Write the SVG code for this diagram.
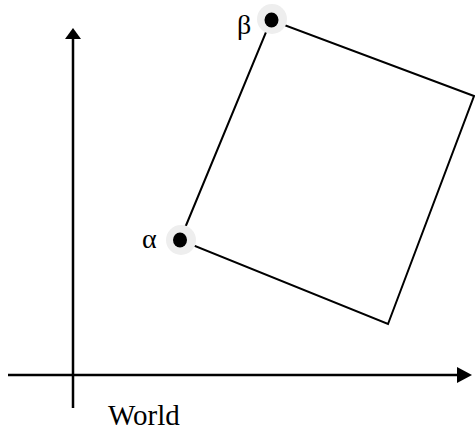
<svg xmlns="http://www.w3.org/2000/svg" width="475" height="430" viewBox="0 0 475 430">
<style>
.ax{stroke:#000;stroke-width:2.5;fill:none}
.edge{stroke:#000;stroke-width:2;fill:none}
.halo{fill:#eeeeee}
.dot{fill:#000}
.lbl{font-family:"Liberation Serif","Times New Roman",serif;font-size:28px;fill:#000}
.w{font-size:29px}
</style>
<g id="connectors">
<line class="ax" x1="73" y1="408" x2="73" y2="38"/>
<path d="M73,28 L65,39 L81,39 Z" fill="#000"/>
<line class="ax" x1="8" y1="375" x2="460" y2="375"/>
<path d="M472,375 L457,367 L457,383 Z" fill="#000"/>
<polygon class="edge" points="180,240 271,20 474,96 388,324"/>
</g>
<g id="alpha">
<circle class="halo" cx="181" cy="240" r="15"/>
<ellipse class="dot" cx="180" cy="240" rx="7" ry="7.5"/>
<text class="lbl" x="142" y="248">α</text>
</g>
<g id="beta">
<circle class="halo" cx="272" cy="19" r="15"/>
<ellipse class="dot" cx="271.5" cy="20" rx="7" ry="7.5"/>
<text class="lbl" x="237" y="34">β</text>
</g>
<g id="world">
<text class="lbl w" x="108" y="425">World</text>
</g>
</svg>
